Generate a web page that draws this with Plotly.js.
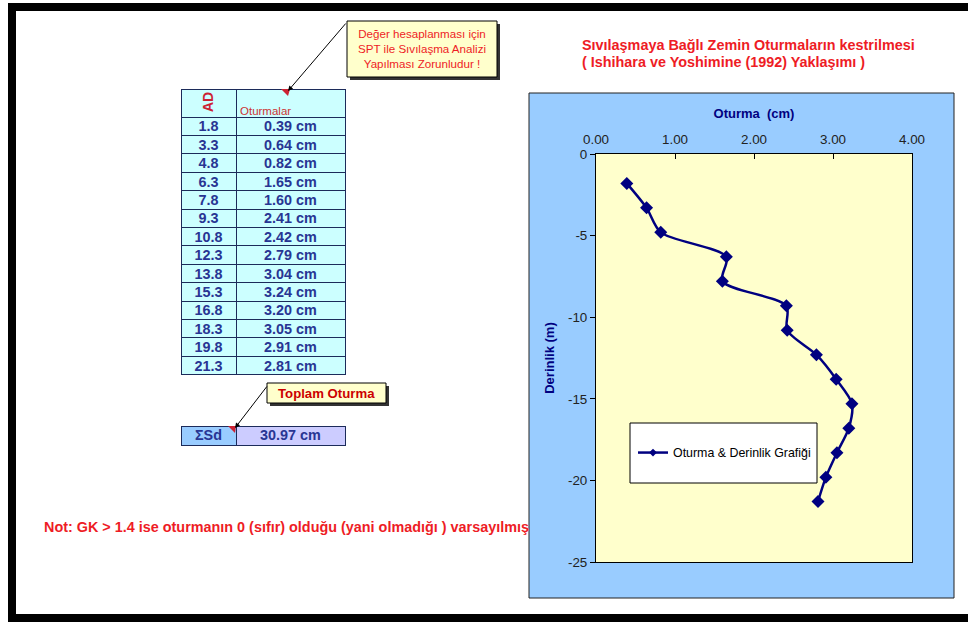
<!DOCTYPE html>
<html><head><meta charset="utf-8">
<script src="https://cdn.plot.ly/plotly-3.0.1.min.js"></script>
<style>
html,body{margin:0;padding:0;background:#fff;}
#chart{width:968px;height:622px;}
#chart .table .cell-text{transform:translateY(-4.5px);}
</style>
</head><body><div id="chart"></div>
<script>
// ---- data ----
const depths = [1.8, 3.3, 4.8, 6.3, 7.8, 9.3, 10.8, 12.3, 13.8, 15.3, 16.8, 18.3, 19.8, 21.3];
const settlements = [0.39, 0.64, 0.82, 1.65, 1.60, 2.41, 2.42, 2.79, 3.04, 3.24, 3.20, 3.05, 2.91, 2.81];
const xTickVals = [0, 1, 2, 3, 4];
const yTickVals = [0, -5, -10, -15, -20, -25];
const yTickText = ["0", "-5", "-10", "-15", "-20", "-25"];
const seriesName = "Oturma & Derinlik Grafiği";
const titleLines = ["Sıvılaşmaya Bağlı Zemin Oturmaların kestrilmesi", "( Ishihara ve Yoshimine (1992) Yaklaşımı )"];
const noteText = "Not: GK > 1.4 ise oturmanın 0 (sıfır) olduğu (yani olmadığı ) varsayılmış";
const calloutText = "Değer hesaplanması için<br>SPT ile Sıvılaşma Analizi<br>Yapılması Zorunludur !";
const totalLabel = "Toplam Oturma";
const sumSymbol = "ΣSd";
const colHeaders = ["AD", "Oturmalar"];

// ---- helpers (pixel -> paper) ----
const W = 968, H = 622;
const fx = p => p / W;
const fy = p => 1 - p / H;
const FONT = "Liberation Sans, Arial, sans-serif";
const NAVY = "#000080";
const TXT = "#283593";
const RED = "#ee1c25";

const total = settlements.reduce((a, b) => a + b, 0);
const negDepth = depths.map(d => -d);

const traces = [
  {
    type: "scatter", mode: "lines+markers", name: seriesName, showlegend: false,
    x: settlements, y: negDepth, xaxis: "x", yaxis: "y",
    line: { color: NAVY, width: 2.5, shape: "spline", smoothing: 0.8 },
    marker: { symbol: "diamond", size: 10, color: NAVY },
    cliponaxis: false, hoverinfo: "x+y"
  },
  { // legend entry only
    type: "scatter", mode: "lines+markers", name: seriesName, showlegend: true,
    x: [null], y: [null], xaxis: "x", yaxis: "y",
    line: { color: NAVY, width: 2.5 },
    marker: { symbol: "diamond", size: 6, color: NAVY }
  },
  {
    type: "table",
    domain: { x: [fx(181), fx(345)], y: [fy(400), fy(89)] },
    columnwidth: [55, 109],
    header: {
      values: ["", ""], height: 28,
      fill: { color: "#ccffff" },
      line: { color: "#1c2b5a", width: 1 },
      font: { family: FONT, size: 12, color: TXT }
    },
    cells: {
      values: [depths, settlements],
      format: [".1f", ".2f"], suffix: ["", " cm"],
      height: 18.4, align: "center",
      fill: { color: "#ccffff" },
      line: { color: "#1c2b5a", width: 1 },
      font: { family: FONT, size: 14.4, color: TXT, weight: "bold" }
    }
  },
  {
    type: "table",
    domain: { x: [fx(181), fx(345)], y: [fy(470), fy(426)] },
    columnwidth: [55, 109],
    header: {
      values: [sumSymbol, total.toFixed(2) + " cm"], height: 19, align: "center",
      fill: { color: ["#99ccff", "#ccccff"] },
      line: { color: "#1c2b5a", width: 1 },
      font: { family: FONT, size: 14.4, color: TXT, weight: "bold" }
    },
    cells: { values: [[], []] }
  }
];

const layout = {
  width: W, height: H, autosize: false,
  margin: { l: 0, r: 0, t: 0, b: 0, pad: 0 },
  paper_bgcolor: "#ffffff", plot_bgcolor: "rgba(0,0,0,0)",
  font: { family: FONT, size: 12, color: "#222" },
  showlegend: true,
  legend: {
    x: fx(633), y: fy(453), xanchor: "left", yanchor: "middle",
    bgcolor: "rgba(0,0,0,0)", borderwidth: 0,
    font: { family: FONT, size: 12.4, color: "#000" }
  },
  xaxis: {
    domain: [fx(596), fx(912)], range: [0, 4], side: "top", anchor: "y",
    tickvals: xTickVals, tickformat: ".2f",
    ticks: "inside", ticklen: 5, tickcolor: "#000", ticklabelstandoff: 4,
    showline: true, linecolor: "#000", linewidth: 1, mirror: true,
    showgrid: false, zeroline: false,
    tickfont: { family: FONT, size: 13.4, color: "#222" },
    title: { text: "Oturma  (cm)", standoff: 10, font: { family: FONT, size: 13, color: NAVY, weight: "bold" } }
  },
  yaxis: {
    domain: [fy(562), fy(154)], range: [-25, 0], anchor: "x",
    tickvals: yTickVals, ticktext: yTickText,
    ticks: "outside", ticklen: 5, tickcolor: "#000",
    showline: true, linecolor: "#000", linewidth: 1, mirror: true,
    showgrid: false, zeroline: false,
    tickfont: { family: FONT, size: 13.4, color: "#222" },
    title: { text: "Derinlik (m)", standoff: 10, font: { family: FONT, size: 13, color: NAVY, weight: "bold" } }
  },
  shapes: [
    { type: "rect", xref: "paper", yref: "paper", layer: "below",
      x0: fx(529), x1: fx(954), y0: fy(598), y1: fy(93),
      fillcolor: "#99ccff", line: { color: "#222", width: 1 } },
    { type: "rect", xref: "x domain", yref: "y domain", layer: "below",
      x0: 0, x1: 1, y0: 0, y1: 1, fillcolor: "#ffffcc", line: { width: 0 } },
    { type: "rect", xref: "paper", yref: "paper", layer: "below",
      x0: fx(630), x1: fx(817), y0: fy(483), y1: fy(423),
      fillcolor: "#ffffff", line: { color: "#000", width: 1 } },
    // callout 1 shadow + box
    { type: "rect", xref: "paper", yref: "paper", layer: "above",
      x0: fx(350), x1: fx(500), y0: fy(80), y1: fy(24),
      fillcolor: "#333", line: { width: 0 } },
    { type: "rect", xref: "paper", yref: "paper", layer: "above",
      x0: fx(347), x1: fx(497), y0: fy(77), y1: fy(21),
      fillcolor: "#ffffcc", line: { color: "#000", width: 1 } },
    // callout 2 shadow + box
    { type: "rect", xref: "paper", yref: "paper", layer: "above",
      x0: fx(270), x1: fx(389), y0: fy(406), y1: fy(386),
      fillcolor: "#333", line: { width: 0 } },
    { type: "rect", xref: "paper", yref: "paper", layer: "above",
      x0: fx(267), x1: fx(386), y0: fy(403), y1: fy(383),
      fillcolor: "#ffffcc", line: { color: "#000", width: 1 } },
    // comment indicators
    { type: "path", xref: "paper", yref: "paper", layer: "above",
      path: `M ${fx(281)} ${fy(89)} L ${fx(290)} ${fy(89)} L ${fx(288)} ${fy(96)} Z`,
      fillcolor: "#cc2233", line: { width: 0 } },
    { type: "path", xref: "paper", yref: "paper", layer: "above",
      path: `M ${fx(228)} ${fy(426)} L ${fx(236)} ${fy(426)} L ${fx(235)} ${fy(433)} Z`,
      fillcolor: "#cc2233", line: { width: 0 } },
    // black outer frame
    { type: "rect", xref: "paper", yref: "paper", layer: "above",
      x0: fx(12), x1: fx(990), y0: fy(618), y1: fy(7),
      fillcolor: "rgba(0,0,0,0)", line: { color: "#000", width: 8 } }
  ],
  annotations: [
    { xref: "paper", yref: "paper", x: fx(580), y: fy(45), xanchor: "left", yanchor: "middle",
      text: titleLines[0], showarrow: false, font: { family: FONT, size: 14.4, color: RED, weight: "bold" } },
    { xref: "paper", yref: "paper", x: fx(580), y: fy(62), xanchor: "left", yanchor: "middle",
      text: titleLines[1], showarrow: false, font: { family: FONT, size: 14.4, color: RED, weight: "bold" } },
    { xref: "paper", yref: "paper", x: fx(422), y: fy(48), xanchor: "center", yanchor: "middle",
      text: calloutText, showarrow: false, align: "center",
      font: { family: FONT, size: 11.6, color: RED } },
    { xref: "paper", yref: "paper", x: fx(326), y: fy(393), xanchor: "center", yanchor: "middle",
      text: totalLabel, showarrow: false, font: { family: FONT, size: 13.2, color: "#cc0000", weight: "bold" } },
    { xref: "paper", yref: "paper", x: fx(208), y: fy(102), xanchor: "center", yanchor: "middle",
      text: colHeaders[0], textangle: -90, showarrow: false, font: { family: FONT, size: 14, color: "#cc2233", weight: "bold" } },
    { xref: "paper", yref: "paper", x: fx(238), y: fy(111), xanchor: "left", yanchor: "middle",
      text: colHeaders[1], showarrow: false, font: { family: FONT, size: 11.5, color: "#cc3333" } },
    { xref: "paper", yref: "paper", x: fx(42), y: fy(527), xanchor: "left", yanchor: "middle",
      text: noteText, showarrow: false, font: { family: FONT, size: 14.4, color: RED, weight: "bold" } },
    { xref: "paper", yref: "paper", x: fx(288), y: fy(91), text: "", showarrow: true,
      ax: 59, ay: -69, arrowhead: 2, arrowsize: 1, arrowwidth: 1, arrowcolor: "#000", standoff: 0 },
    { xref: "paper", yref: "paper", x: fx(235), y: fy(428), text: "", showarrow: true,
      ax: 33, ay: -43, arrowhead: 2, arrowsize: 1, arrowwidth: 1, arrowcolor: "#000", standoff: 0 }
  ]
};

Plotly.newPlot("chart", traces, layout, { displayModeBar: false, staticPlot: true });
</script>
</body></html>
